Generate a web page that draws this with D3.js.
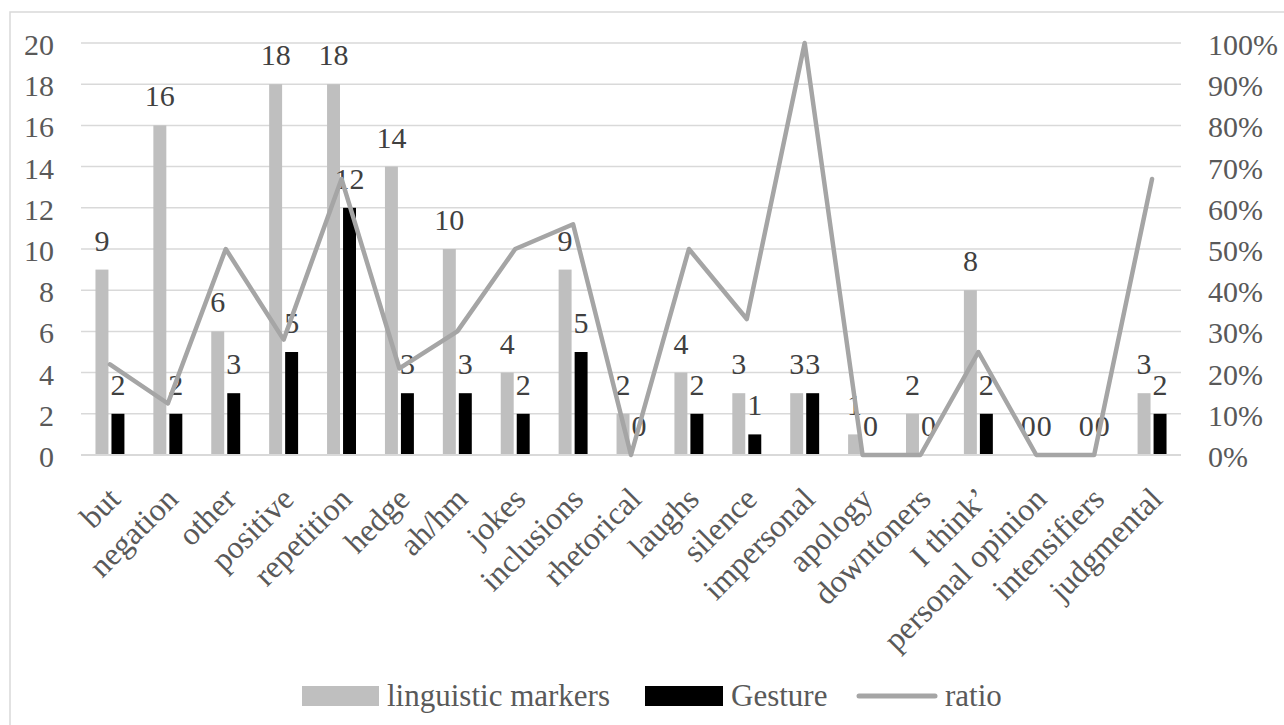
<!DOCTYPE html>
<html>
<head>
<meta charset="utf-8">
<script src="https://cdn.jsdelivr.net/npm/d3@7"></script>
<style>
  body { margin: 0; background: #fff; }
  svg text { font-family: "Liberation Serif", "Times New Roman", serif; }
</style>
</head>
<body>
<div id="chart"></div>
<script>
// data
const categories = ["but", "negation", "other", "positive", "repetition", "hedge", "ah/hm", "jokes",
    "inclusions", "rhetorical", "laughs", "silence", "impersonal", "apology", "downtoners",
    "I think\u2019", "personal opinion", "intensifiers", "judgmental"];
const linguisticMarkers = [9, 16, 6, 18, 18, 14, 10, 4, 9, 2, 4, 3, 3, 1, 2, 8, 0, 0, 3];
const gesture = [2, 2, 3, 5, 12, 3, 3, 2, 5, 0, 2, 1, 3, 0, 0, 2, 0, 0, 2];
const ratio = [0.22, 0.125, 0.50, 0.28, 0.67, 0.21, 0.30, 0.50, 0.56, 0, 0.50, 0.33, 1.00, 0, 0, 0.25, 0, 0, 0.67];
const leftTicks = [0, 2, 4, 6, 8, 10, 12, 14, 16, 18, 20];
const rightTicks = [0, 0.1, 0.2, 0.3, 0.4, 0.5, 0.6, 0.7, 0.8, 0.9, 1];
const seriesNames = ["linguistic markers", "Gesture", "ratio"];

const width = 1284, height = 725;
const plot = { left: 81, right: 1181, top: 43, bottom: 455 };
const serif = "Liberation Serif";

const svg = d3.select("#chart")
    .append("svg")
    .attr("width", width)
    .attr("height", height)
    .attr("font-family", serif);

// outer frame
svg.append("rect")
    .attr("x", 10).attr("y", 12)
    .attr("width", 1300).attr("height", 800)
    .attr("fill", "none")
    .attr("stroke", "#d9d9d9")
    .attr("stroke-width", 1.5);

const x = d3.scaleBand()
    .domain(categories)
    .range([plot.left, plot.right])
    .paddingInner(0.5)
    .paddingOuter(0.25);

const xInner = d3.scaleBand()
    .domain(["ling", "gest"])
    .range([0, x.bandwidth()])
    .paddingInner(0.19);

const y = d3.scaleLinear().domain([0, 20]).range([plot.bottom, plot.top]);
const y2 = d3.scaleLinear().domain([0, 1]).range([plot.bottom, plot.top]);

// gridlines
svg.append("g")
    .selectAll("line")
    .data(leftTicks)
    .join("line")
    .attr("x1", plot.left).attr("x2", plot.right)
    .attr("y1", d => y(d)).attr("y2", d => y(d))
    .attr("stroke", "#d9d9d9")
    .attr("stroke-width", 1.5);

// left axis
const leftAxis = svg.append("g")
    .attr("transform", `translate(${plot.left - 27},0)`)
    .call(d3.axisLeft(y).tickValues(leftTicks).tickSize(0).tickPadding(0))
    .attr("font-family", serif)
    .attr("font-size", 30);
leftAxis.select(".domain").remove();
leftAxis.selectAll("text")
    .attr("fill", "#595959")
    .attr("dy", "0.38em");

// right axis
const rightAxis = svg.append("g")
    .attr("transform", `translate(${plot.right + 27},0)`)
    .call(d3.axisRight(y2).tickValues(rightTicks).tickFormat(d3.format(".0%")).tickSize(0).tickPadding(0))
    .attr("font-family", serif)
    .attr("font-size", 30);
rightAxis.select(".domain").remove();
rightAxis.selectAll("text")
    .attr("fill", "#595959")
    .attr("dy", "0.38em");

// bars
const groups = svg.append("g")
    .selectAll("g")
    .data(categories)
    .join("g")
    .attr("transform", d => `translate(${x(d)},0)`);

groups.append("rect")
    .attr("x", xInner("ling"))
    .attr("width", xInner.bandwidth())
    .attr("y", (d, i) => y(linguisticMarkers[i]))
    .attr("height", (d, i) => y(0) - y(linguisticMarkers[i]))
    .attr("fill", "#bfbfbf");

groups.append("rect")
    .attr("x", xInner("gest"))
    .attr("width", xInner.bandwidth())
    .attr("y", (d, i) => y(gesture[i]))
    .attr("height", (d, i) => y(0) - y(gesture[i]))
    .attr("fill", "#000000");

// data labels
groups.append("text")
    .attr("x", xInner("ling") + xInner.bandwidth() / 2)
    .attr("y", (d, i) => y(linguisticMarkers[i]) - 19)
    .attr("text-anchor", "middle")
    .attr("font-size", 30)
    .attr("fill", "#404040")
    .text((d, i) => linguisticMarkers[i]);

groups.append("text")
    .attr("x", xInner("gest") + xInner.bandwidth() / 2)
    .attr("y", (d, i) => y(gesture[i]) - 19)
    .attr("text-anchor", "middle")
    .attr("font-size", 30)
    .attr("fill", "#404040")
    .text((d, i) => gesture[i]);

// baseline
svg.append("line")
    .attr("x1", plot.left).attr("x2", plot.right)
    .attr("y1", y(0)).attr("y2", y(0))
    .attr("stroke", "#d9d9d9")
    .attr("stroke-width", 2);

// ratio line
const line = d3.line()
    .x((d, i) => x(categories[i]) + x.bandwidth() / 2)
    .y(d => y2(d));

svg.append("path")
    .datum(ratio)
    .attr("fill", "none")
    .attr("stroke", "#a5a5a5")
    .attr("stroke-width", 4.5)
    .attr("stroke-linejoin", "round")
    .attr("stroke-linecap", "round")
    .attr("d", line);

// category labels
svg.append("g")
    .selectAll("text")
    .data(categories)
    .join("text")
    .attr("transform", d => `translate(${x(d) + x.bandwidth() / 2 + 12},${plot.bottom + 46}) rotate(-45)`)
    .attr("text-anchor", "end")
    .attr("font-size", 32)
    .attr("fill", "#595959")
    .text(d => d);

// legend
const legend = svg.append("g").attr("font-size", 31).attr("fill", "#595959");
legend.append("rect")
    .attr("x", 302).attr("y", 686).attr("width", 77).attr("height", 20)
    .attr("fill", "#bfbfbf");
legend.append("text")
    .attr("x", 387).attr("y", 706)
    .text(seriesNames[0]);
legend.append("rect")
    .attr("x", 645).attr("y", 686).attr("width", 78).attr("height", 20)
    .attr("fill", "#000000");
legend.append("text")
    .attr("x", 731).attr("y", 706)
    .text(seriesNames[1]);
legend.append("line")
    .attr("x1", 859).attr("x2", 935).attr("y1", 696).attr("y2", 696)
    .attr("stroke", "#a5a5a5")
    .attr("stroke-width", 5)
    .attr("stroke-linecap", "round");
legend.append("text")
    .attr("x", 945).attr("y", 706)
    .text(seriesNames[2]);
</script>
</body>
</html>
